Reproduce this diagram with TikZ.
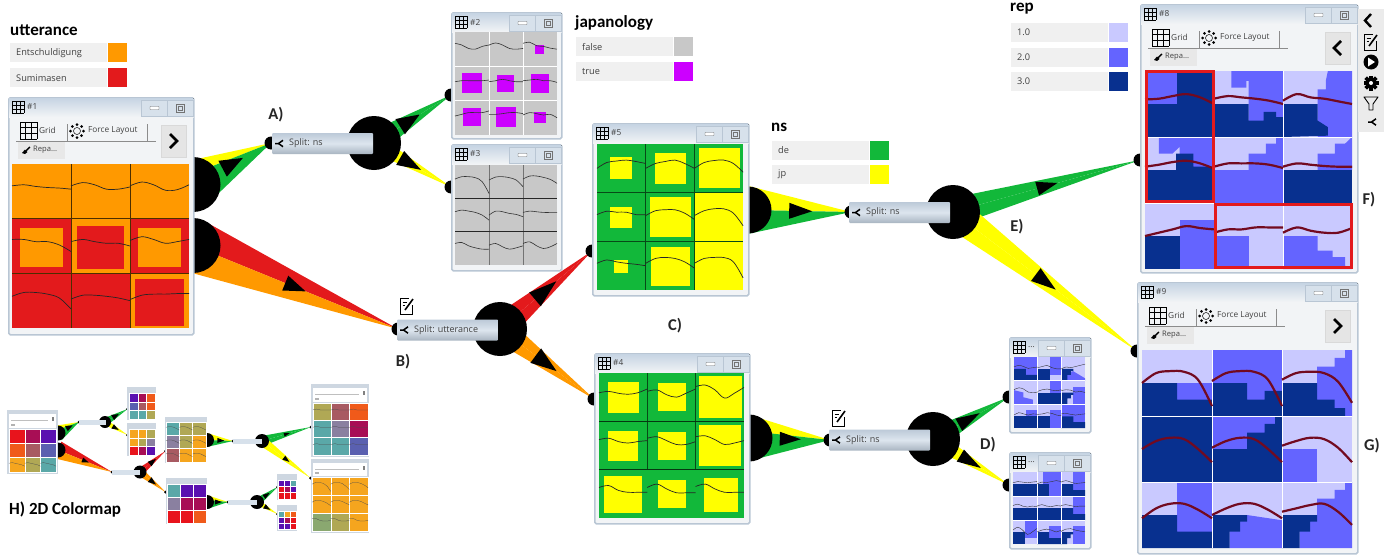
\documentclass[tikz,border=0pt]{standalone}
\usepackage{fontspec}
\setmainfont{Open Sans}
\newfontfamily\headfont{Carlito}
\usetikzlibrary{calc,backgrounds}
\frenchspacing
\definecolor{cOrange}{HTML}{FF9900}
\definecolor{cRed}{HTML}{E31A1C}
\definecolor{cGreen}{HTML}{12B83A}
\definecolor{cYellow}{HTML}{FFFF00}
\definecolor{cMagenta}{HTML}{CC00FF}
\definecolor{cGray}{HTML}{C8C8C8}
\definecolor{repL}{HTML}{C9C9FF}
\definecolor{repM}{HTML}{6464FF}
\definecolor{repD}{HTML}{08308F}
\definecolor{winEdge}{HTML}{B9C6D4}
\definecolor{winBody}{HTML}{F2F4F6}
\definecolor{winHead}{HTML}{C6D4E3}
\definecolor{curveRed}{HTML}{720A20}
\definecolor{cmred}{HTML}{E8141C}
\definecolor{cmcrim}{HTML}{A80E55}
\definecolor{cmpur}{HTML}{5A10B0}
\definecolor{cmoran}{HTML}{F05A1A}
\definecolor{cmrose}{HTML}{A85A62}
\definecolor{cmblue}{HTML}{5A60B0}
\definecolor{cmamb}{HTML}{F5A51E}
\definecolor{cmolive}{HTML}{B0A855}
\definecolor{cmteal}{HTML}{5AA8A8}
\definecolor{cmgrey}{HTML}{8A80A0}
\definecolor{cmsage}{HTML}{8AA870}
\tikzset{
  hubdot/.style={circle,fill=black,inner sep=0pt,minimum size=#1},
  vizframe/.style={draw=winEdge,fill=winBody,line width=1.5pt,rounded corners=1.5pt,anchor=north west,inner sep=0pt},
  winbtn/.style={draw=winEdge,line width=.4pt,fill=winHead!70!white,minimum width=26pt,minimum height=16pt,inner sep=0pt},
  wintext/.style={font=\fontsize{8.3}{9}\selectfont,text=black!75,inner sep=0pt},
  legbar/.style={fill=black!6,anchor=north west,minimum width=97pt,minimum height=19pt,inner sep=0pt,
    text width=85pt,font=\fontsize{9.2}{10}\selectfont,text=black!75},
  legswatch/.style={anchor=west,minimum width=19pt,minimum height=19pt,inner sep=0pt},
  headtext/.style={font=\headfont\bfseries\fontsize{17}{18}\selectfont,anchor=west,inner sep=0pt},
  marktext/.style={font=\headfont\bfseries\fontsize{16.5}{18}\selectfont,text=black!85,inner sep=0pt},
  splitbox/.style={top color=winHead!95!black,bottom color=winHead!85!black,middle color=winHead!60!white,anchor=west,rounded corners=1pt,
    minimum width=101pt,minimum height=21pt,inner xsep=4pt,inner ysep=0pt,text width=93pt,
    font=\fontsize{9}{10}\selectfont,text=black!75},
  minibox/.style={fill=winHead!70!white,anchor=west,minimum height=5pt,inner sep=0pt},
  miniframe/.style={fill=winEdge!70!white,anchor=north west,inner sep=0pt},
  incell/.style 2 args={shift={({\gridx+(#1-1)*\gridw},{\gridy+(#2-1)*\gridh})},x=\gridw pt,y=-\gridh pt},
  pics/gridicon/.style={code={
    \foreach \t in {0,1,2,3}{
      \draw[line width=.5pt] (\t*#1/3,0) -- (\t*#1/3,#1);
      \draw[line width=.5pt] (0,\t*#1/3) -- (#1,\t*#1/3);}}},
  pics/forceicon/.style={code={
    \draw[line width=.5pt] (0,0) circle (3.5pt);
    \foreach \a in {0,45,...,315} \fill (\a:6.5pt) circle (1.5pt);}},
  pics/brushicon/.style={code={
    \fill (-4,3) -- (-1,-.5) -- (1.5,2) -- (-1,4) -- cycle;
    \draw[line width=1.4pt] (0,.8) -- (4,-3);}},
  pics/splitsign/.style={code={
    \draw[line width=1.5pt] (-4,0) -- (-.5,0) -- (4,-3.2);
    \draw[line width=1.5pt] (-.5,0) -- (4,3.2);}},
  pics/noteicon/.style={code={
    \draw[line width=.9pt] (6,-1) -- (6,8) -- (-6,8) -- (-6,-8) -- (3,-8);
    \draw[line width=.6pt] (-3.5,-3.5) -- (1,-3.5) (-3.5,-.5) -- (-1,-.5);
    \draw[line width=1.6pt] (-1,4) -- (7,-7);}},
}
\newcommand\setgrid[4]{\def\gridx{#1}\def\gridy{#2}\def\gridw{#3}\def\gridh{#4}}
% window frame with its title bar
\newcommand\vizwin[6]{
  \node[vizframe,minimum width={(#4-#2)*1pt},minimum height={(#5-#3)*1pt}] (#1) at (#2,#3) {};
  \fill[top color=winHead,bottom color=winBody] ($(#1.north west)+(1,1)$) rectangle ($(#1.north east)+(-1,20)$);
  \pic at ($(#1.north west)+(4,4)$) {gridicon=12};
  \node[wintext,anchor=west] (#1-title) at ($(#1.north west)+(19,10)$) {#6};
  \node[winbtn] (#1-min) at ($(#1.north east)+(-40,11)$) {};
  \node[winbtn] (#1-max) at ($(#1.north east)+(-14,11)$) {};
  \draw[black!55,fill=white,rounded corners=.5pt,line width=.4pt] ($(#1-min)+(-4.5,-1.5)$) rectangle ($(#1-min)+(4.5,1.5)$);
  \draw[black!55,line width=.5pt] ($(#1-max)+(-4,-4)$) rectangle ($(#1-max)+(4,4)$);
  \draw[black!55,line width=.4pt] ($(#1-max)+(-2,-2)$) rectangle ($(#1-max)+(2,2)$);
}
% toolbar below the title bar
\newcommand\vizbar[2]{
  \pic at ($(#1.north west)+(12,25)$) {gridicon=17};
  \node[wintext,anchor=west] (#1-grid) at ($(#1.north west)+(31,33)$) {Grid};
  \draw[black!45,line width=.5pt] ($(#1.north west)+(59,27)$) -- ($(#1.north west)+(59,44)$);
  \pic at ($(#1.north west)+(69,34)$) {forceicon};
  \node[wintext,anchor=west] (#1-force) at ($(#1.north west)+(80,34)$) {Force Layout};
  \draw[black!45,line width=.5pt] ($(#1.north west)+(139,27)$) -- ($(#1.north west)+(139,44)$) -- ($(#1.north west)+(8,44)$);
  \draw[black!45,line width=.5pt] ($(#1.north west)+(139,44)$) -- ($(#1.north west)+(148,44)$);
  \node[fill=black!9,minimum width=47pt,minimum height=17pt,anchor=west,inner sep=0pt] (#1-repa) at ($(#1.north west)+(10,53)$) {};
  \pic at ($(#1-repa.west)+(8,0)$) {brushicon};
  \node[wintext,anchor=west,font=\fontsize{7.6}{9}\selectfont] (#1-repatext) at ($(#1-repa.west)+(15,0)$) {Repa...};
  \node[fill=black!10,draw=black!15,minimum width=25pt,minimum height=32pt,inner sep=0pt] (#1-chev) at ($(#1.north east)+(-21,44)$) {};
  \draw[line width=2.6pt] ($(#1-chev)+(-#2*3.5,-7)$) -- ($(#1-chev)+(#2*3.5,0)$) -- ($(#1-chev)+(-#2*3.5,7)$);
}
% wedge from a to b in two colours, with the border shifted by #6
\newcommand\flowedge[6]{
  \fill[#3] ($(#1)!#5pt!90:(#2)$) -- (#2.center) -- ($(#1)!#6pt!90:(#2)$) -- cycle;
  \fill[#4] ($(#1)!#5pt!-90:(#2)$) -- (#2.center) -- ($(#1)!#6pt!90:(#2)$) -- cycle;
}
\newcommand\flowtri[5]{
  \coordinate (tri) at ($(#1)!#3!(#2)$);
  \fill ($(tri)!#4pt!(#2)$) -- ($(tri)!#5pt!90:(#2)$) -- ($(tri)!#5pt!-90:(#2)$) -- cycle;
}
\newcommand\legendrow[5]{
  \node[legbar] (#1) at (#2,#3) {#4};
  \node[legswatch,fill=#5] (#1-swatch) at (#1.east) {};
}
\newcommand\cellfills[1]{\foreach \cl/\rw/\bg in {#1}{\fill[\bg,incell={\cl}{\rw}] (0,0) rectangle (1,1);}}
\newcommand\cellinsets[2]{\foreach \xa/\ya/\xb/\yb in {#2}{\fill[#1] (\xa,\ya) rectangle (\xb,\yb);}}
\newcommand\curvegrid[2]{\foreach \cl/\rw/\va/\vb/\vc/\vd/\ve/\vf in {#2}{
  \draw[#1,incell={\cl}{\rw}] plot[smooth,tension=.6] coordinates {(0,\va) (.2,\vb) (.4,\vc) (.6,\vd) (.8,\ve) (1,\vf)};}}
\newcommand\gridlines[1]{
  \draw[#1,incell={2}{1}] (0,0) -- (0,3);
  \draw[#1,incell={3}{1}] (0,0) -- (0,3);
  \draw[#1,incell={1}{2}] (0,0) -- (3,0);
  \draw[#1,incell={1}{3}] (0,0) -- (3,0);
}
\newcommand\repcell[5]{
  \fill[#3,incell={#1}{#2}] (0,0) rectangle (1,1);
  \fill[repM,incell={#1}{#2}] #4;
  \fill[repD,incell={#1}{#2}] #5;
}
\newcommand\minigrid[1]{\foreach \col [count=\i from 0] in {#1}{
  \pgfmathtruncatemacro\cl{mod(\i,3)+1}
  \pgfmathtruncatemacro\rw{int(\i/3)+1}
  \fill[\col,draw=white,line width=.4pt,incell={\cl}{\rw}] (0,0) rectangle (1,1);}}
\newcommand\pHalf{(0,.5) -- (1,.5) -- (1,1) -- (0,1) -- cycle}
\newcommand\pLeft{(0,.5) -- (.5,.5) -- (.5,1) -- (0,1) -- cycle}
\newcommand\pNotch{(0,.5) -- (.5,.5) -- (.5,.75) -- (1,.75) -- (1,1) -- (0,1) -- cycle}
\newcommand\pStep{(0,.5) -- (.5,.5) -- (.5,.6) -- (.4,.6) -- (.4,.75) -- (.25,.75) -- (.25,1) -- (0,1) -- cycle}
\newcommand\pStairs{(.5,.25) -- (.75,.25) -- (.75,.12) -- (.9,.12) -- (.9,0) -- (1,0) -- (1,1) -- (.5,1) -- cycle}
\newcommand\pRight{(.5,.25) -- (1,.25) -- (1,1) -- (.5,1) -- cycle}
\newcommand\pRightUp{(.5,0) -- (1,0) -- (1,.75) -- (.5,.75) -- cycle}
\begin{document}
\begin{tikzpicture}[x=1pt,y=-1pt]
\useasboundingbox (0,0) rectangle (1384,557);

% hubs and knobs, they stay under the windows
\node[hubdot=55] (h1a) at (193,184.5) {};
\node[hubdot=55] (h1b) at (193,245.5) {};
\node[hubdot=47] (h5) at (748,210) {};
\node[hubdot=47] (h4) at (749,438) {};
\node[hubdot=54] (hA) at (374,143) {};
\node[hubdot=54] (hB) at (500,329) {};
\node[hubdot=54] (hE) at (953,212) {};
\node[hubdot=54] (hD) at (933,439) {};
\foreach \n/\x/\y in {kA/271/143,kB/398/329,kE/851/212,kD/830/440,k2/451/95,k3/451/187,k5/592/251,k4/594/399,k8/1140/160,k9/1137/351,k6/1009/397,k7/1009/485}
  \node[hubdot=13] (\n) at (\x,\y) {};

% wedges
\begin{scope}[on background layer]
\flowedge{h1a}{kA}{cYellow}{cGreen}{25}{10}
\flowedge{h1b}{kB}{cRed}{cOrange}{27}{0}
\flowedge{hA}{k2}{cGreen}{cGreen}{12}{0}
\flowedge{hA}{k3}{cYellow}{cYellow}{9}{0}
\flowedge{hB}{k5}{cRed}{cRed}{14}{0}
\flowedge{hB}{k4}{cOrange}{cOrange}{13}{0}
\flowedge{h5}{kE}{cYellow}{cGreen}{24}{0}
\flowedge{h4}{kD}{cYellow}{cGreen}{23}{7}
\flowedge{hE}{k8}{cGreen}{cGreen}{14}{0}
\flowedge{hE}{k9}{cYellow}{cYellow}{16}{0}
\flowedge{hD}{k6}{cGreen}{cGreen}{11}{0}
\flowedge{hD}{k7}{cYellow}{cYellow}{9}{0}
\flowtri{h1a}{kA}{.38}{23}{9}
\flowtri{h1b}{kB}{.45}{22}{8}
\flowtri{hA}{k2}{.34}{23}{9}
\flowtri{hA}{k3}{.34}{24}{8}
\flowtri{hB}{k5}{.38}{28}{9}
\flowtri{hB}{k4}{.38}{26}{9}
\flowtri{h5}{kE}{.40}{23}{8}
\flowtri{h4}{kD}{.38}{21}{7}
\flowtri{hE}{k8}{.45}{21}{7}
\flowtri{hE}{k9}{.45}{25}{8}
\flowtri{hD}{k6}{.34}{24}{7}
\flowtri{hD}{k7}{.36}{24}{7}
\end{scope}

% window 1
\vizwin{w1}{8}{97}{193}{334}{\#1}
\vizbar{w1}{1}
\setgrid{12}{164}{59}{54.67}
\cellfills{1/1/cOrange,2/1/cOrange,3/1/cOrange,1/2/cRed,2/2/cOrange,3/2/cRed,1/3/cRed,2/3/cRed,3/3/cOrange}
\cellinsets{cOrange}{20/228/63/267,138/228/181/267}
\cellinsets{cRed}{77/226/124/269,135/279/184/326}
\gridlines{black!70!cOrange,line width=1pt}
\curvegrid{black!85,line width=.7pt}{1/1/.40/.38/.41/.43/.44/.46,2/1/.40/.34/.38/.46/.46/.42,3/1/.40/.33/.38/.48/.47/.38,
  1/2/.38/.38/.42/.42/.48/.60,2/2/.42/.38/.42/.45/.45/.50,3/2/.40/.33/.38/.45/.42/.38,
  1/3/.42/.35/.35/.38/.45/.65,2/3/.47/.40/.40/.42/.45/.50,3/3/.48/.40/.38/.38/.37/.37}

% window 2
\vizwin{w2}{451}{12}{561}{138}{\#2}
\setgrid{455}{32}{34}{34.3}
\cellfills{1/1/cGray,2/1/cGray,3/1/cGray,1/2/cGray,2/2/cGray,3/2/cGray,1/3/cGray,2/3/cGray,3/3/cGray}
\gridlines{white,line width=.6pt}
\cellinsets{cMagenta}{535/45/544/54,462/73/482/93,497/75/514/92,531/74/549/93,463/108/481/126,496/107/516/127,534/112/546/123}
\curvegrid{black!80,line width=.6pt}{1/1/.33/.38/.48/.50/.42/.38,2/1/.38/.32/.38/.48/.50/.48,3/1/.33/.30/.40/.42/.47/.50,
  1/2/.45/.42/.42/.42/.42/.40,2/2/.45/.42/.38/.42/.45/.45,3/2/.42/.40/.38/.42/.42/.47,
  1/3/.45/.40/.35/.35/.35/.30,2/3/.40/.40/.38/.35/.35/.38,3/3/.42/.35/.38/.42/.40/.50}

% window 3
\vizwin{w3}{451}{144}{561}{270}{\#3}
\setgrid{455}{165}{34}{33.4}
\cellfills{1/1/cGray,2/1/cGray,3/1/cGray,1/2/cGray,2/2/cGray,3/2/cGray,1/3/cGray,2/3/cGray,3/3/cGray}
\draw[black!55,line width=.8pt,incell={2}{1}] (0,0) -- (0,3);
\draw[black!55,line width=.8pt,incell={3}{1}] (0,0) -- (0,3);
\draw[black!85,line width=1pt,incell={1}{2}] (0,0) -- (3,0);
\draw[black!85,line width=1pt,incell={1}{3}] (0,0) -- (3,0);
\curvegrid{black!80,line width=.6pt}{1/1/.42/.35/.35/.38/.50/.85,2/1/.45/.36/.35/.38/.45/.65,3/1/.42/.33/.33/.37/.43/.55,
  1/2/.40/.35/.38/.42/.50/.65,2/2/.50/.38/.40/.45/.48/.55,3/2/.42/.38/.40/.42/.42/.42,
  1/3/.35/.32/.42/.48/.52/.52,2/3/.40/.35/.45/.52/.48/.42,3/3/.35/.30/.42/.50/.45/.35}

% window 5
\vizwin{w5}{592}{123}{748}{295}{\#5}
\setgrid{597}{144}{48.7}{48.7}
\cellfills{1/1/cGreen,2/1/cGreen,3/1/cGreen,1/2/cGreen,2/2/cGreen,3/2/cYellow,1/3/cGreen,2/3/cGreen,3/3/cYellow}
\cellinsets{cYellow}{610/157/632/179,655/153/686/184,699/148/740/188,610/207/632/228,650/197/691/237,614/260/628/273,651/247/690/286}
\gridlines{black!60!cGreen,line width=1pt}
\curvegrid{black!85,line width=.7pt}{1/1/.50/.38/.35/.33/.36/.40,2/1/.50/.40/.36/.33/.40/.50,3/1/.50/.38/.34/.33/.40/.58,
  1/2/.45/.38/.40/.40/.45/.45,2/2/.47/.37/.35/.35/.42/.55,3/2/.47/.37/.33/.33/.42/.68,
  1/3/.45/.38/.42/.45/.47/.50,2/3/.45/.35/.33/.35/.42/.55,3/3/.45/.35/.33/.33/.42/.75}

% window 4
\vizwin{w4}{594}{353}{749}{523}{\#4}
\setgrid{599}{373}{48.3}{48.3}
\cellfills{1/1/cGreen,2/1/cGreen,3/1/cGreen,1/2/cGreen,2/2/cGreen,3/2/cGreen,1/3/cGreen,2/3/cGreen,3/3/cGreen}
\cellinsets{cYellow}{608/382/639/413,658/383/686/411,699/376/742/418,608/431/638/461,658/432/686/460,699/425/741/466,604/476/642/513,658/480/686/508,704/478/738/512}
\draw[black!60!cGreen,line width=.9pt,incell={2}{1}] (0,0) -- (0,2);
\draw[black!60!cGreen,line width=.9pt,incell={3}{1}] (0,0) -- (0,2);
\draw[black!70!cGreen,line width=1.1pt,incell={1}{2}] (0,0) -- (3,0);
\draw[black!70!cGreen,line width=1.1pt,incell={1}{3}] (0,0) -- (3,0);
\curvegrid{black!85,line width=.7pt}{1/1/.41/.38/.42/.44/.41/.33,2/1/.38/.35/.45/.50/.42/.33,3/1/.28/.25/.35/.52/.42/.30,
  1/2/.38/.35/.42/.45/.42/.40,2/2/.35/.32/.40/.48/.48/.42,3/2/.32/.30/.38/.48/.45/.40,
  1/3/.37/.33/.43/.47/.47/.47,2/3/.37/.30/.40/.48/.48/.48,3/3/.35/.30/.40/.47/.47/.47}

% window 8
\vizwin{w8}{1140}{4}{1357}{272}{\#8}
\vizbar{w8}{-1}
\setgrid{1145}{71}{69}{66}
\repcell{1}{1}{repD}{(0,0) -- (.47,0) -- (.47,.5) -- (0,.5) -- cycle}{}
\repcell{2}{1}{repL}{(.25,0) -- (1,0) -- (1,1) -- (.5,1) -- (.5,.15) -- (.47,.15) -- (.47,.25) -- (.25,.25) -- cycle}{(0,.5) -- (.5,.5) -- (.5,.75) -- (.72,.75) -- (.72,.62) -- (.9,.62) -- (.9,.7) -- (1,.7) -- (1,1) -- (0,1) -- cycle}
\repcell{3}{1}{repL}{(.5,.28) -- (.62,.28) -- (.62,.15) -- (.65,0) -- (1,0) -- (1,1) -- (.5,1) -- cycle}{(0,.5) -- (.5,.5) -- (.5,.75) -- (.65,.85) -- (.65,.98) -- (0,1) -- cycle}
\repcell{1}{2}{repL}{(.2,0) -- (1,0) -- (1,.5) -- (.5,.5) -- (.5,.15) -- (.4,.25) -- (.2,.25) -- cycle}{(0,.5) -- (.45,.5) -- (.45,.25) -- (.7,.25) -- (.7,.45) -- (1,.45) -- (1,1) -- (0,1) -- cycle}
\repcell{2}{2}{repL}{(.5,.25) -- (.75,.25) -- (.75,.1) -- (.9,.1) -- (.9,0) -- (1,0) -- (1,1) -- (0,1) -- (0,.5) -- (.5,.5) -- cycle}{}
\repcell{3}{2}{repL}{(.5,.25) -- (.75,.25) -- (.75,.1) -- (.9,.1) -- (1,0) -- (1,.5) -- (.5,.5) -- cycle}{\pHalf}
\repcell{1}{3}{repL}{\pRight}{\pLeft}
\repcell{2}{3}{repL}{\pLeft}{}
\repcell{3}{3}{repL}{(0,.5) -- (.5,.5) -- (.5,.72) -- (.72,.72) -- (.72,.82) -- (.9,.82) -- (.9,.95) -- (1,1) -- (0,1) -- cycle}{}
\gridlines{white,line width=.8pt}
\curvegrid{curveRed,line width=2.2pt}{1/1/.43/.42/.38/.35/.40/.50,2/1/.42/.38/.40/.42/.45/.50,3/1/.45/.35/.40/.42/.46/.50,
  1/2/.45/.42/.38/.36/.40/.48,2/2/.45/.40/.40/.40/.42/.47,3/2/.45/.40/.42/.44/.45/.45,
  1/3/.50/.45/.40/.35/.38/.40,2/3/.45/.40/.40/.37/.37/.37,3/3/.45/.37/.42/.45/.45/.38}
\draw[cRed,line width=3pt] (1146,71.5) rectangle (1213,201.5);
\draw[cRed,line width=3pt] (1215,204) rectangle (1351,267);

% window 9
\vizwin{w9}{1137}{282}{1357}{553}{\#9}
\vizbar{w9}{1}
\setgrid{1142}{350}{70}{66}
\repcell{1}{1}{repL}{(.5,.5) -- (1,.5) -- (1,.75) -- (.5,.75) -- cycle}{\pNotch}
\repcell{2}{1}{repM}{}{(0,.5) -- (.5,.5) -- (.5,.75) -- (.75,.75) -- (.75,.62) -- (1,.62) -- (1,1) -- (0,1) -- cycle}
\repcell{3}{1}{repL}{\pStairs}{(0,.5) -- (.5,.5) -- (.5,.75) -- (.75,.75) -- (.75,.88) -- (.9,.88) -- (.9,1) -- (0,1) -- cycle}
\repcell{1}{2}{repD}{}{}
\repcell{2}{2}{repM}{}{(.5,.25) -- (.75,.25) -- (.75,.12) -- (.9,.12) -- (.9,0) -- (1,0) -- (1,1) -- (0,1) -- (0,.5) -- (.5,.5) -- cycle}
\repcell{3}{2}{repL}{\pLeft}{}
\repcell{1}{3}{repL}{\pRightUp}{\pNotch}
\repcell{2}{3}{repL}{(.5,.5) -- (1,.58) -- (1,1) -- (.25,1) -- (.25,.75) -- cycle}{\pStep}
\repcell{3}{3}{repL}{(.5,.25) -- (.75,.25) -- (.75,.12) -- (.9,.12) -- (.9,0) -- (1,0) -- (1,1) -- (.25,1) -- (.25,.7) -- (.5,.5) -- cycle}{\pStep}
\gridlines{white,line width=.8pt}
\curvegrid{curveRed,line width=2.2pt}{1/1/.50/.35/.32/.33/.45/.85,2/1/.47/.35/.32/.33/.45/.85,3/1/.45/.35/.33/.35/.48/.80,
  1/2/.50/.38/.33/.35/.50/.70,2/2/.48/.38/.33/.35/.50/.70,3/2/.45/.38/.33/.35/.48/.70,
  1/3/.55/.40/.33/.33/.42/.55,2/3/.50/.40/.33/.33/.42/.55,3/3/.45/.40/.35/.33/.45/.65}

% the two small windows
\vizwin{w6}{1009}{337}{1090}{432}{...}
\setgrid{1014}{357}{23.7}{23.7}
\repcell{1}{1}{repM}{}{\pNotch}
\repcell{2}{1}{repL}{\pRightUp}{\pLeft}
\repcell{3}{1}{repL}{(.2,.7) -- (.5,.6) -- (1,.9) -- (1,1) -- (.2,1) -- cycle}{\pStep}
\repcell{1}{2}{repL}{(0,.4) -- (.4,.5) -- (.4,.7) -- (.8,.8) -- (.8,1) -- (0,1) -- cycle}{}
\repcell{2}{2}{repL}{\pRightUp}{\pHalf}
\repcell{3}{2}{repL}{\pRight}{\pStep}
\repcell{1}{3}{repL}{(.5,.25) -- (1,.25) -- (1,.6) -- (.5,.6) -- cycle}{\pHalf}
\repcell{2}{3}{repL}{\pRight}{\pLeft}
\repcell{3}{3}{repM}{}{\pNotch}
\gridlines{white,line width=.5pt}
\curvegrid{black!80,line width=.4pt}{1/1/.42/.35/.40/.48/.45/.42,2/1/.45/.40/.36/.45/.50/.50,3/1/.50/.42/.45/.40/.35/.30,
  1/2/.38/.30/.35/.48/.50/.48,2/2/.45/.38/.35/.40/.42/.38,3/2/.42/.38/.40/.48/.45/.50,
  1/3/.45/.35/.40/.45/.40/.42,2/3/.42/.40/.35/.38/.45/.48,3/3/.40/.38/.42/.45/.42/.40}
\vizwin{w7}{1009}{452}{1090}{548}{...}
\setgrid{1013}{472}{24}{24}
\repcell{1}{1}{repL}{}{\pHalf}
\repcell{2}{1}{repL}{(.25,0) -- (1,0) -- (1,1) -- (.25,1) -- (.25,.5) -- cycle}{\pLeft}
\repcell{3}{1}{repL}{\pRightUp}{\pNotch}
\repcell{1}{2}{repL}{}{\pHalf}
\repcell{2}{2}{repL}{}{\pHalf}
\repcell{3}{2}{repL}{\pRightUp}{\pNotch}
\repcell{1}{3}{repL}{\pRightUp}{\pLeft}
\repcell{2}{3}{repL}{\pRight}{\pNotch}
\repcell{3}{3}{repL}{\pRight}{\pStep}
\gridlines{white,line width=.5pt}
\curvegrid{black!80,line width=.4pt}{1/1/.45/.40/.42/.45/.42/.40,2/1/.50/.42/.44/.40/.36/.40,3/1/.42/.36/.42/.48/.46/.44,
  1/2/.40/.34/.42/.46/.42/.45,2/2/.42/.36/.42/.44/.40/.42,3/2/.40/.36/.40/.44/.42/.42,
  1/3/.42/.30/.42/.60/.50/.35,2/3/.50/.42/.38/.42/.50/.42,3/3/.48/.38/.36/.42/.46/.48}

% right tool strip
\fill[black!8] (1358,9) rectangle (1384,132);
\draw[line width=2.4pt] (1371,14) -- (1365,20.5) -- (1371,27);
\pic at (1370,42) {noteicon};
\fill (1371,62) circle (7.5pt);
\fill[white] (1368,57.5) -- (1375,62) -- (1368,66.5) -- cycle;
\foreach \a in {0,45,...,315} \fill[rotate around={\a:(1371,83)}] (1369.2,75.5) rectangle (1372.8,83);
\fill (1371,83) circle (5.6pt);
\fill[white] (1371,83) circle (2pt);
\draw[line width=.9pt,line join=round] (1364,97) -- (1378,97) -- (1373,104) -- (1373,110) -- (1369,110) -- (1369,104) -- cycle;
\pic at (1372,122) {splitsign};

% split boxes
\node[splitbox] (sA) at (272,143.5) {\hspace*{13pt}Split: ns};
\node[splitbox] (sB) at (397,330) {\hspace*{13pt}Split: utterance};
\node[splitbox] (sE) at (849,212.5) {\hspace*{13pt}Split: ns};
\node[splitbox] (sD) at (829,440) {\hspace*{13pt}Split: ns};
\foreach \n in {sA,sB,sE,sD} \pic at ($(\n.west)+(7,0)$) {splitsign};
\pic at (406,306) {noteicon};
\pic at (838,418) {noteicon};

% legends
\node[headtext] (t-utt) at (10,30) {utterance};
\legendrow{l-ent}{10}{43}{Entschuldigung}{cOrange}
\legendrow{l-sum}{10}{68}{Sumimasen}{cRed}
\node[headtext] (t-jap) at (575,23) {japanology};
\legendrow{l-false}{576}{37}{false}{cGray}
\legendrow{l-true}{576}{62}{true}{cMagenta}
\node[headtext] (t-ns) at (771,127) {ns};
\legendrow{l-de}{772}{140.5}{de}{cGreen}
\legendrow{l-jp}{772}{165}{jp}{cYellow}
\node[headtext] (t-rep) at (1010,9) {rep};
\legendrow{l-one}{1011}{23}{1.0}{repL}
\legendrow{l-two}{1011}{47.5}{2.0}{repM}
\legendrow{l-three}{1011}{72}{3.0}{repD}

% labels
\node[marktext] (mA) at (276,115) {A)};
\node[marktext] (mB) at (403,362) {B)};
\node[marktext] (mC) at (675,326) {C)};
\node[marktext] (mD) at (988,445) {D)};
\node[marktext] (mE) at (1017,227) {E)};
\node[marktext] (mF) at (1369,200) {F)};
\node[marktext] (mG) at (1372,446) {G)};
\node[headtext] (mH) at (9,510) {H) 2D Colormap};

% 2D colormap overview
\node[hubdot=15] (mh1a) at (58,433) {};
\node[hubdot=15] (mh1b) at (58,450) {};
\node[hubdot=14] (mh5) at (207,440) {};
\node[hubdot=14] (mh4) at (207,502) {};
\node[hubdot=12] (mhA) at (105,422) {};
\node[hubdot=13] (mhB) at (140,472) {};
\node[hubdot=14] (mhE) at (262,441) {};
\node[hubdot=14] (mhD) at (257,502) {};
\foreach \n/\x/\y in {mkA/79/422,mkB/112/472,mkE/233/441,mkD/228/502,mk2/127.5/409,mk3/127.5/435,mk5/165.5/451,mk4/165.5/492,mk6/311/427,mk7/310.5/478,mk8/277.5/487,mk9/277.5/514}
  \node[hubdot=3] (\n) at (\x,\y) {};
\begin{scope}[on background layer]
\flowedge{mh1a}{mkA}{cYellow}{cGreen}{8}{3}
\flowedge{mh1b}{mkB}{cRed}{cOrange}{9}{0}
\flowedge{mhA}{mk2}{cGreen}{cGreen}{4}{0}
\flowedge{mhA}{mk3}{cYellow}{cYellow}{3}{0}
\flowedge{mhB}{mk5}{cRed}{cRed}{4}{0}
\flowedge{mhB}{mk4}{cOrange}{cOrange}{4}{0}
\flowedge{mh5}{mkE}{cYellow}{cGreen}{7}{0}
\flowedge{mh4}{mkD}{cYellow}{cGreen}{7}{2}
\flowedge{mhE}{mk6}{cGreen}{cGreen}{5}{0}
\flowedge{mhE}{mk7}{cYellow}{cYellow}{5}{0}
\flowedge{mhD}{mk8}{cGreen}{cGreen}{4}{0}
\flowedge{mhD}{mk9}{cYellow}{cYellow}{3}{0}
\flowtri{mh1a}{mkA}{.4}{7}{3}
\flowtri{mh1b}{mkB}{.45}{7}{2.5}
\flowtri{mhA}{mk2}{.34}{7}{3}
\flowtri{mhA}{mk3}{.34}{7}{2.5}
\flowtri{mhB}{mk5}{.38}{8}{3}
\flowtri{mhB}{mk4}{.38}{8}{3}
\flowtri{mh5}{mkE}{.40}{7}{2.5}
\flowtri{mh4}{mkD}{.38}{7}{2.5}
\flowtri{mhE}{mk6}{.45}{6}{2}
\flowtri{mhE}{mk7}{.45}{7}{2.5}
\flowtri{mhD}{mk8}{.34}{7}{2.5}
\flowtri{mhD}{mk9}{.36}{7}{2.5}
\end{scope}
\foreach \n/\xa/\ya/\w/\h in {mw1/7/410/51/64,mw2/127/387/29/33,mw3/127/423/29/33,mw5/165/417/42/46,mw4/166/478/41/46,mw6/311/384/58/73,mw7/311/459/58/74,mw8/277/474/20/26,mw9/277/505/20/26}
  \node[miniframe,minimum width=\w pt,minimum height=\h pt] (\n) at (\xa,\ya) {};
\foreach \n/\xa/\ya/\xb/\yb in {mw1/9/414/56/428,mw6/313/388/367/402,mw7/313/463/367/476}{
  \fill[white] (\xa,\ya) rectangle (\xb,\yb);
  \draw[black!25,line width=.25pt] (\xa+2,\ya+6) -- (\xb-8,\ya+6);
  \fill[black!30] (\xa+2,\yb-4) rectangle (\xa+6,\yb-2);
  \fill[black!50] (\xb-4,\ya+3) rectangle (\xb-2.5,\ya+7);
}
\setgrid{9}{429}{15.7}{14.3}
\minigrid{cmred,cmcrim,cmpur,cmoran,cmrose,cmblue,cmamb,cmolive,cmteal}
\curvegrid{black!70,line width=.25pt}{1/3/.4/.35/.4/.45/.5/.6,2/3/.4/.35/.4/.45/.5/.6,3/3/.4/.35/.4/.45/.5/.6}
\setgrid{129}{393}{8.7}{8.7}
\minigrid{cmpur,cmcrim,cmoran,cmblue,cmrose,cmoran,cmteal,cmteal,cmolive}
\setgrid{129}{429}{8.7}{8.7}
\minigrid{cmamb,cmamb,cmolive,cmamb,cmolive,cmgrey,cmred,cmcrim,cmpur}
\setgrid{166}{422}{13.3}{13.3}
\minigrid{cmteal,cmolive,cmolive,cmgrey,cmolive,cmamb,cmrose,cmamb,cmamb}
\curvegrid{black!70,line width=.25pt}{1/1/.4/.35/.35/.4/.5/.6,2/1/.4/.35/.35/.4/.5/.6,3/1/.4/.35/.35/.4/.5/.6,1/2/.4/.35/.35/.4/.5/.6,2/2/.4/.35/.35/.4/.5/.6,3/2/.4/.35/.35/.4/.5/.6,1/3/.4/.35/.35/.4/.5/.6,2/3/.4/.35/.35/.4/.5/.6,3/3/.4/.35/.35/.4/.5/.6}
\setgrid{167}{484}{13}{13}
\minigrid{cmteal,cmpur,cmpur,cmgrey,cmcrim,cmcrim,cmred,cmred,cmoran}
\setgrid{313}{403}{18.3}{17.3}
\minigrid{cmolive,cmrose,cmoran,cmteal,cmgrey,cmcrim,cmteal,cmteal,cmblue}
\curvegrid{black!70,line width=.25pt}{1/1/.4/.35/.4/.4/.4/.4,2/1/.4/.35/.4/.4/.4/.4,3/1/.4/.35/.4/.4/.4/.4,1/2/.4/.35/.4/.4/.4/.4,2/2/.4/.35/.4/.4/.4/.4,3/2/.4/.35/.4/.4/.4/.4,1/3/.4/.35/.4/.4/.4/.4,2/3/.4/.35/.4/.4/.4/.4,3/3/.4/.35/.4/.4/.4/.4}
\setgrid{312}{477}{18.7}{18}
\minigrid{cmamb,cmamb,cmamb,cmamb,cmamb,cmamb,cmsage,cmolive,cmamb}
\curvegrid{black!70,line width=.25pt}{1/1/.4/.3/.3/.35/.5/.8,2/1/.4/.3/.3/.35/.5/.7,3/1/.4/.3/.3/.35/.45/.6,1/2/.4/.3/.3/.35/.45/.6,2/2/.4/.3/.3/.35/.45/.55,3/2/.4/.3/.3/.35/.45/.55,1/3/.3/.3/.4/.45/.45/.4,2/3/.3/.3/.4/.45/.45/.4,3/3/.3/.3/.4/.45/.45/.4}
\setgrid{278}{480}{6}{6.3}
\minigrid{cmpur,cmpur,cmteal,cmred,cmcrim,cmpur,cmred,cmred,cmred}
\setgrid{278}{511}{6}{6}
\minigrid{cmteal,cmamb,cmoran,cmpur,cmcrim,cmred,cmpur,cmpur,cmred}
\foreach \n/\xa/\y/\w in {bA/79/422.5/27,bB/112/472.5/28,bE/233/441/29,bD/228/502.5/29}
  \node[minibox,minimum width=\w pt] (\n) at (\xa,\y) {};
\end{tikzpicture}
\end{document}
